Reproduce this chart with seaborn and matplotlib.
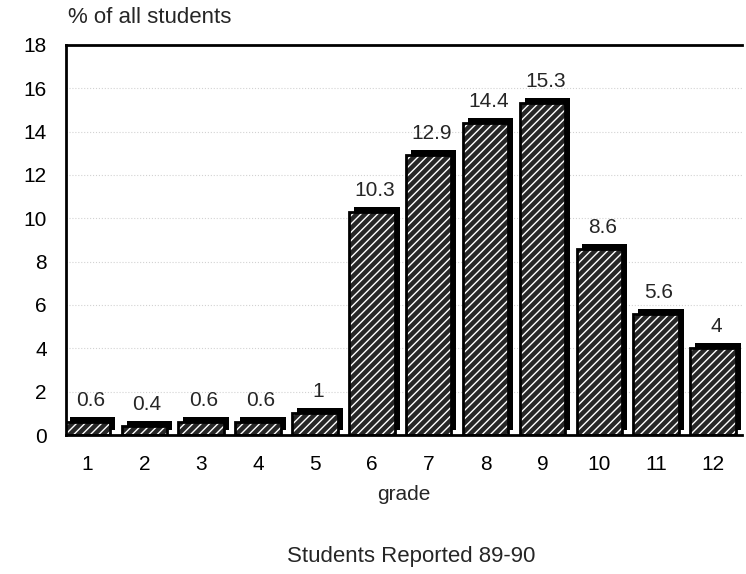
import pandas as pd
import matplotlib
matplotlib.use('Agg')
import matplotlib.pyplot as plt
import matplotlib.transforms as mtransforms
import seaborn as sns

# Values
grades = ['1', '2', '3', '4', '5', '6', '7', '8', '9', '10', '11', '12']
pct_students = [0.6, 0.4, 0.6, 0.6, 1, 10.3, 12.9, 14.4, 15.3, 8.6, 5.6, 4]
value_labels = ['0.6', '0.4', '0.6', '0.6', '1', '10.3', '12.9', '14.4', '15.3', '8.6', '5.6', '4']
y_ticks = [0, 2, 4, 6, 8, 10, 12, 14, 16, 18]

df = pd.DataFrame({'grade': grades, 'pct': pct_students})

sns.set_style('white')
plt.rcParams['font.family'] = ['Liberation Sans', 'DejaVu Sans']
plt.rcParams['hatch.linewidth'] = 1.0

fig = plt.figure(figsize=(7.46, 5.74), dpi=100)
ax = fig.add_axes([0.089, 0.242, 0.905, 0.68])

# black "depth" of the 3D bars, shifted up and right a few pixels
sns.barplot(data=df, x='grade', y='pct', color='black', width=0.8,
            saturation=1, ax=ax, linewidth=0)
shift = mtransforms.offset_copy(ax.transData, fig=fig, x=5, y=5, units='dots')
for p in ax.patches:
    p.set_transform(shift)
n_shadow = len(ax.patches)

# front face: dark fill with white hatching
sns.barplot(data=df, x='grade', y='pct', color='#262626', width=0.8,
            saturation=1, ax=ax, edgecolor='white', linewidth=0)
for p in ax.patches[n_shadow:]:
    p.set_hatch('////')

# black outlines drawn on top
sns.barplot(data=df, x='grade', y='pct', width=0.8, ax=ax, fill=False,
            edgecolor='black', linewidth=2)

for i, (v, lab) in enumerate(zip(pct_students, value_labels)):
    ax.text(i + 0.05, v + 0.55, lab, ha='center', va='bottom', fontsize=15)

ax.set_xlim(-0.37, 11.5)
ax.set_ylim(0, 18)
ax.set_yticks(y_ticks)
ax.tick_params(axis='both', labelsize=15, length=6, width=1.2, direction='out',
               colors='black')
ax.tick_params(axis='x', length=0, pad=14)
ax.tick_params(axis='y', pad=8)
ax.yaxis.grid(True, linestyle=':', color='gray', linewidth=0.8, alpha=0.35)

for side in ['left', 'top', 'bottom']:
    ax.spines[side].set_color('black')
    ax.spines[side].set_linewidth(2)
ax.spines['right'].set_visible(False)

ax.set_xlabel('grade', fontsize=15, labelpad=8)
ax.set_ylabel('')
fig.text(0.091, 0.969, '% of all students', fontsize=16, ha='left', va='center')
fig.text(0.551, 0.031, 'Students Reported 89-90', fontsize=16, ha='center', va='center')

fig.savefig('out.png', dpi=100)
